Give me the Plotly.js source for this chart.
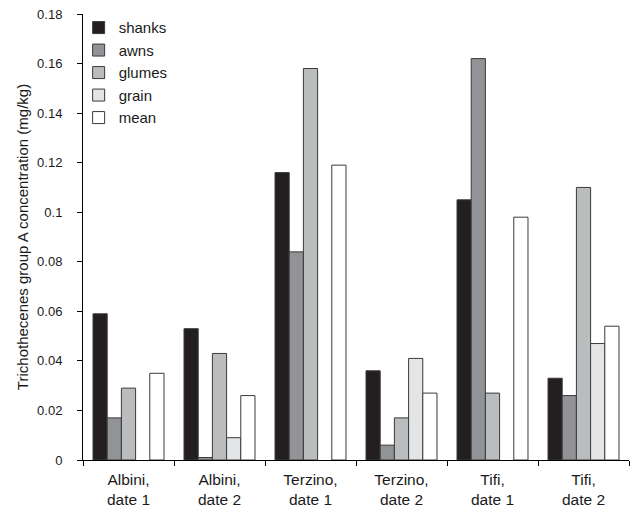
<!DOCTYPE html>
<html>
<head>
<meta charset="utf-8">
<script src="https://cdn.plot.ly/plotly-3.0.1.min.js"></script>
<style>html,body{margin:0;padding:0;background:#fff;}#chart{width:638px;height:510px;}</style>
</head>
<body>
<div id="chart"></div>
<script>
var categories = ["Albini,<br>date 1", "Albini,<br>date 2", "Terzino,<br>date 1", "Terzino,<br>date 2", "Tifi,<br>date 1", "Tifi,<br>date 2"];
var seriesNames = ["shanks", "awns", "glumes", "grain", "mean"];
var shanks = [0.059, 0.053, 0.116, 0.036, 0.105, 0.033];
var awns   = [0.017, 0.001, 0.084, 0.006, 0.162, 0.026];
var glumes = [0.029, 0.043, 0.158, 0.017, 0.027, 0.110];
var grain  = [null, 0.009, null, 0.041, null, 0.047];
var mean   = [0.035, 0.026, 0.119, 0.027, 0.098, 0.054];
var colors = ["#231f20", "#929396", "#bbbcbe", "#e4e5e6", "#ffffff"];
var seriesValues = [shanks, awns, glumes, grain, mean];

var traces = seriesValues.map(function (vals, i) {
  return {
    type: "bar",
    name: seriesNames[i],
    x: categories,
    y: vals,
    marker: { color: colors[i], line: { color: "#3a3a3a", width: 1 } }
  };
});

var font = { family: "Liberation Sans, Arial, sans-serif", color: "#1a1a1a" };
var layout = {
  width: 638, height: 510,
  margin: { l: 83, r: 9, t: 14, b: 50 },
  paper_bgcolor: "#fff", plot_bgcolor: "#fff",
  barmode: "group", bargap: 0.22, bargroupgap: 0,
  font: { family: font.family, color: font.color, size: 13 },
  showlegend: true,
  legend: {
    x: -0.008, y: 1.006, xanchor: "left", yanchor: "top",
    bgcolor: "rgba(0,0,0,0)", itemwidth: 30,
    font: { family: font.family, color: font.color, size: 15 }
  },
  xaxis: {
    type: "category",
    tickson: "boundaries",
    ticks: "outside", ticklen: 5, tickcolor: "#000", tickwidth: 1,
    ticklabelstandoff: 5,
    showline: true, linecolor: "#000", linewidth: 1,
    showgrid: false, zeroline: false,
    tickfont: { family: font.family, color: font.color, size: 15.5 }
  },
  yaxis: {
    range: [0, 0.18], dtick: 0.02, tick0: 0,
    ticks: "outside", ticklen: 5, tickcolor: "#000", tickwidth: 1,
    ticklabelstandoff: 12,
    showline: true, linecolor: "#000", linewidth: 1,
    showgrid: false, zeroline: false,
    tickfont: { family: font.family, color: font.color, size: 13 },
    title: { text: "Trichothecenes group A concentration (mg/kg)", standoff: 4,
             font: { family: font.family, color: font.color, size: 15 } }
  }
};
Plotly.newPlot("chart", traces, layout, { displayModeBar: false, staticPlot: true });
</script>
</body>
</html>
